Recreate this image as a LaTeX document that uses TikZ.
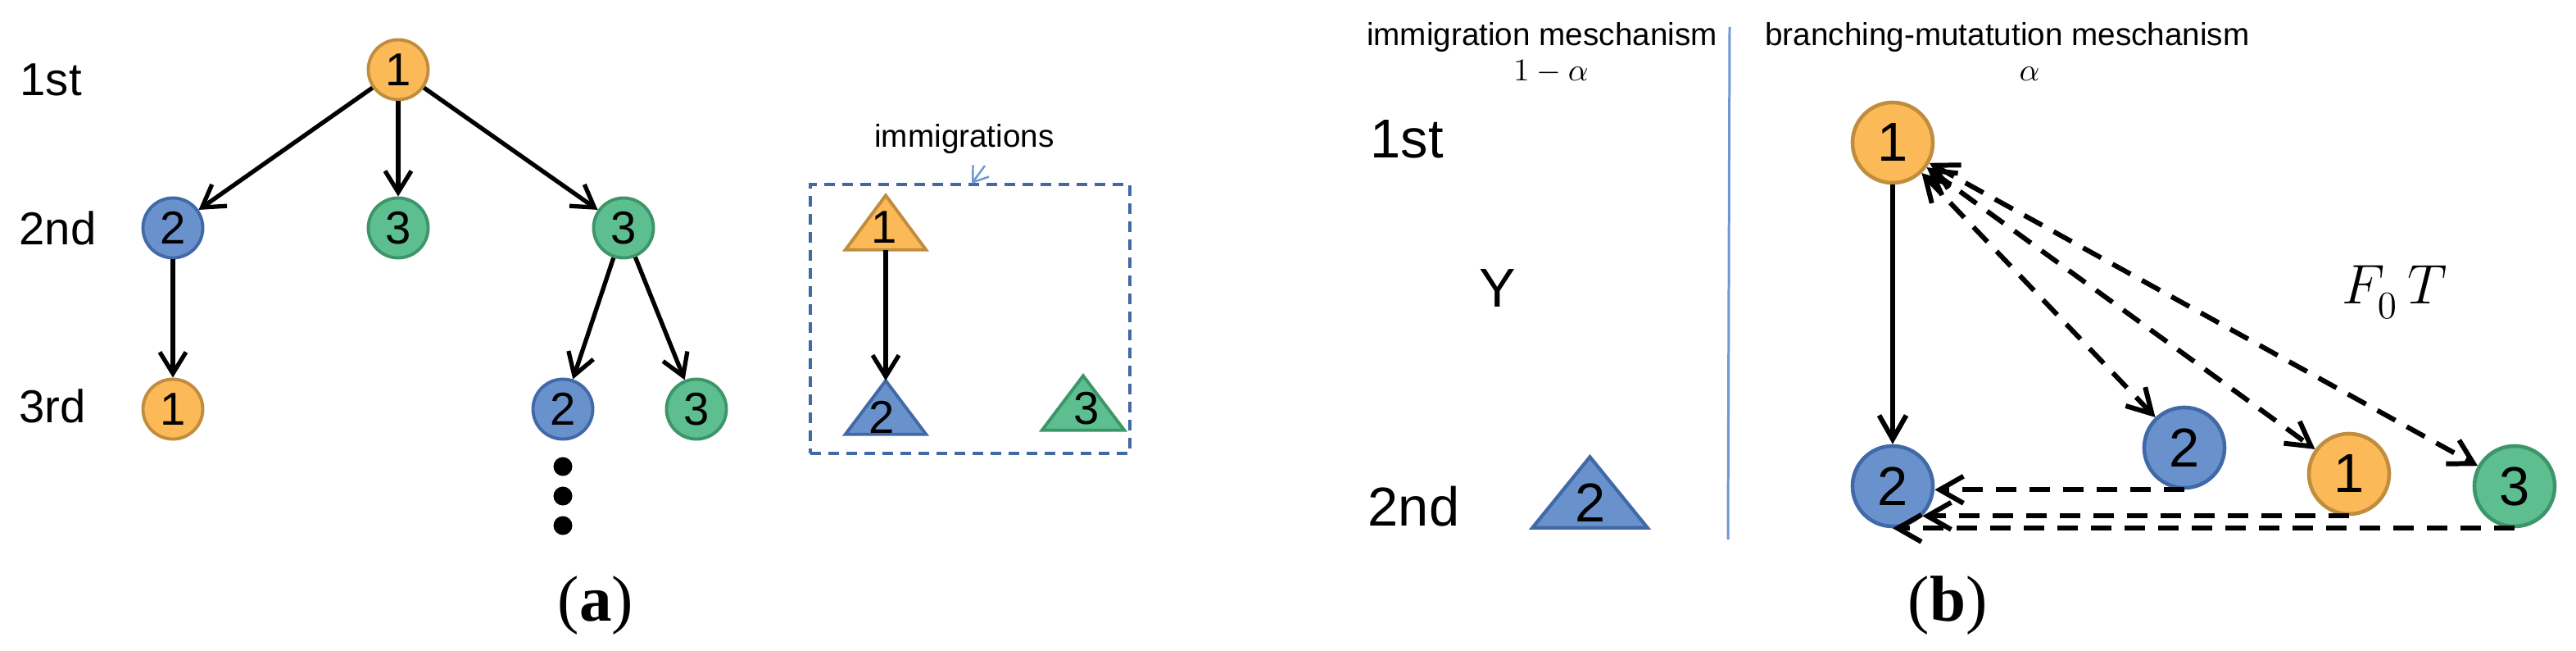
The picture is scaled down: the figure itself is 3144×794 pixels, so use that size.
\documentclass[tikz,border=0pt]{standalone}
\usepackage[no-math]{fontspec}
\newfontfamily\arialf{Liberation Sans}
\newfontfamily\timesf{Liberation Serif}
\usetikzlibrary{arrows.meta}
\definecolor{orF}{HTML}{FBB958}
\definecolor{orD}{HTML}{C08C3E}
\definecolor{blF}{HTML}{6991CC}
\definecolor{blD}{HTML}{4169A7}
\definecolor{grF}{HTML}{5DBE8F}
\definecolor{grD}{HTML}{3D956A}
\definecolor{boxC}{HTML}{4069A8}
\definecolor{ltB}{HTML}{6F97D3}
\newcommand\fntA{\arialf\fontsize{16}{19}\selectfont}
\newcommand\fntB{\arialf\fontsize{19}{23}\selectfont}
\newcommand\fntS{\arialf\fontsize{11}{13}\selectfont}
\newcommand\fntM{\fontsize{11}{13}\selectfont}
\newcommand\fntF{\fontsize{17.28}{21}\selectfont}
\newcommand\fntC{\timesf\fontsize{22.5}{26}\selectfont}
\begin{document}
\begin{tikzpicture}[x=0.01cm,y=-0.01cm,
  cA/.style={circle,inner sep=0pt,minimum size=0.73cm,line width=1.1pt,font=\fntA},
  cB/.style={circle,inner sep=0pt,minimum size=0.98cm,line width=1.3pt,font=\fntB},
  oN/.style={fill=orF,draw=orD},
  bN/.style={fill=blF,draw=blD},
  gN/.style={fill=grF,draw=grD},
  arrA/.style={-{Straight Barb[length=0.26cm,width=0.32cm]},line width=1.5pt},
  arrB/.style={-{Straight Barb[length=0.29cm,width=0.33cm]},line width=1.7pt},
  dsh/.style={line width=1.7pt,dash pattern=on 0.25cm off 0.16cm},
  darr/.style={dsh,{Straight Barb[length=0.29cm,width=0.33cm]}-{Straight Barb[length=0.29cm,width=0.33cm]}},
  sarr/.style={dsh,-{Straight Barb[length=0.29cm,width=0.33cm]}},
  lbl/.style={inner sep=0pt,anchor=base west},
  txt/.style={inner sep=0pt,anchor=base},
  tbox/.style={inner sep=0pt,minimum width=#1},
  dotn/.style={circle,fill=black,inner sep=0pt,minimum size=0.23cm}
]
\useasboundingbox (0,0) rectangle (3144,794);

% ---------------- panel (a) ----------------
\node[lbl,font=\fntA] (la1) at (24,117) {1st};
\node[lbl,font=\fntA] (la2) at (23,299) {2nd};
\node[lbl,font=\fntA] (la3) at (23,515) {3rd};

\node[cA,oN] (n1)  at (486,85)  {1};
\node[cA,bN] (n2a) at (211,278) {2};
\node[cA,gN] (n3a) at (486,278) {3};
\node[cA,gN] (n3b) at (761,278) {3};
\node[cA,oN] (n1c) at (211,499) {1};
\node[cA,bN] (n2c) at (687,499) {2};
\node[cA,gN] (n3c) at (850,499) {3};

\draw[arrA] (n1) -- (n2a);
\draw[arrA] (n1) -- (n3a);
\draw[arrA] (n1) -- (n3b);
\draw[arrA] (n2a) -- (n1c);
\draw[arrA] (n3b) -- (n2c);
\draw[arrA] (n3b) -- (n3c);

\node[dotn] (d1) at (687,569) {};
\node[dotn] (d2) at (687,605) {};
\node[dotn] (d3) at (687,641) {};

% immigrations box
\node[draw=boxC,line width=1.1pt,dash pattern=on 0.13cm off 0.09cm,inner sep=0pt,
      minimum width=3.9cm,minimum height=3.28cm] (box) at (1184,389) {};
\node[txt,font=\fntS] (imm) at (1177,180) {immigrations};
\coordinate (ia) at (1202,202);
\coordinate (ib) at (1186,224);
\draw[ltB,line width=0.7pt,-{Straight Barb[length=0.17cm,width=0.24cm]}] (ia) -- (ib);

\node[tbox=0.97cm,minimum height=0.65cm] (T1) at (1081,271.5) {};
\node[tbox=0.97cm,minimum height=0.64cm] (T2) at (1081,497) {};
\node[tbox=0.99cm,minimum height=0.65cm] (T3) at (1322,491.5) {};
\draw[oN,line width=1.1pt] (T1.south west) -- (T1.south east) -- (T1.north) -- cycle;
\draw[bN,line width=1.1pt] (T2.south west) -- (T2.south east) -- (T2.north) -- cycle;
\draw[gN,line width=1.1pt] (T3.south west) -- (T3.south east) -- (T3.north) -- cycle;
\node[txt,font=\fntA] (T1t) at (1079,297) {1};
\node[txt,font=\fntA] (T2t) at (1076,528) {2};
\node[txt,font=\fntA] (T3t) at (1326,518) {3};
\draw[arrA] (T1.south) -- (T2.north);

\node[txt,font=\fntC] (capa) at (727,757) {(\textbf{a})};

% ---------------- panel (b) ----------------
\node[txt,font=\fntS] (hm1) at (1882,56) {immigration meschanism};
\node[txt,font=\fntM] (hm2) at (1893,99) {$1-\alpha$};
\node[txt,font=\fntS] (hb1) at (2450,56) {branching-mutatution meschanism};
\node[txt,font=\fntM] (hb2) at (2477,99) {$\alpha$};

\coordinate (s1) at (2111,33);
\coordinate (s2) at (2109,658);
\draw[ltB,line width=0.85pt] (s1) -- (s2);

\node[lbl,font=\fntB] (lb1) at (1672,193) {1st};
\node[lbl,font=\fntB] (lb2) at (1669,641) {2nd};
\node[txt,font=\fntB] (Y) at (1828,375) {Y};

\node[tbox=1.39cm,minimum height=0.85cm] (TB) at (1940.5,600.5) {};
\draw[bN,line width=1.2pt] (TB.south west) -- (TB.south east) -- (TB.north) -- cycle;
\node[txt,font=\fntB] (TBt) at (1941,636) {2};

\node[cB,oN] (N1) at (2310,174) {1};
\node[cB,bN] (B2) at (2310,593) {2};
\node[cB,bN] (M2) at (2666,546) {2};
\node[cB,oN] (O1) at (2867,578) {1};
\node[cB,gN] (G3) at (3069,593) {3};

\draw[arrB] (N1) -- (B2);
\draw[darr] (N1) -- (M2);
\draw[darr] (N1) -- (O1);
\draw[darr] (N1) -- (G3);
\draw[sarr] (M2.south) -- (M2.south -| B2.east);
\draw[sarr] (O1.south) -- (O1.south -| B2.-45);
\draw[sarr] (G3.south) -- (G3.south -| B2.south);

\node[inner sep=0pt,anchor=base west,font=\fntF] (F0T) at (2858,370)
  {\scalebox{1.12}{$F_{\raisebox{-2pt}{$\scriptstyle 0$}}\mkern3mu T$}};

\node[txt,font=\fntC] (capb) at (2377,757) {(\textbf{b})};
\end{tikzpicture}
\end{document}
